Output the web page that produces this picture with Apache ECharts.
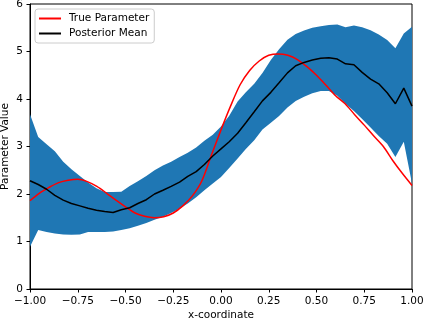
<!DOCTYPE html>
<html>
<head>
<meta charset="utf-8">
<script src="https://cdn.jsdelivr.net/npm/echarts@6/dist/echarts.min.js"></script>
<style>
  html, body { margin: 0; padding: 0; background: #fff; }
  #chart { width: 423px; height: 322px; }
</style>
</head>
<body>
<div id="chart"></div>
<script>
// grid of the posterior (47 points between -1 and 1)
const xGrid = [
  -1.000, -0.957, -0.913, -0.870, -0.826, -0.783, -0.739, -0.696, -0.652, -0.609,
  -0.565, -0.522, -0.478, -0.435, -0.391, -0.348, -0.304, -0.261, -0.217, -0.174,
  -0.130, -0.087, -0.043, 0.000, 0.043, 0.087, 0.130, 0.174, 0.217, 0.261,
  0.304, 0.348, 0.391, 0.435, 0.478, 0.522, 0.565, 0.609, 0.652, 0.696,
  0.739, 0.783, 0.826, 0.870, 0.913, 0.957, 1.000
];
const meanValues = [
  2.28, 2.20, 2.10, 1.97, 1.87, 1.80, 1.75, 1.70, 1.66, 1.63,
  1.61, 1.67, 1.71, 1.80, 1.88, 2.00, 2.08, 2.16, 2.25, 2.37,
  2.47, 2.62, 2.80, 2.95, 3.10, 3.28, 3.50, 3.73, 3.96, 4.14,
  4.34, 4.55, 4.70, 4.77, 4.82, 4.86, 4.87, 4.84, 4.74, 4.72,
  4.56, 4.42, 4.32, 4.13, 3.90, 4.23, 3.85
];
const upperValues = [
  3.68, 3.20, 3.05, 2.90, 2.68, 2.52, 2.38, 2.24, 2.12, 2.04,
  2.04, 2.05, 2.17, 2.27, 2.38, 2.50, 2.60, 2.68, 2.78, 2.87,
  2.98, 3.12, 3.25, 3.42, 3.65, 3.95, 4.14, 4.32, 4.55, 4.82,
  5.05, 5.25, 5.37, 5.44, 5.50, 5.53, 5.56, 5.57, 5.51, 5.55,
  5.51, 5.45, 5.36, 5.24, 5.07, 5.38, 5.52
];
const lowerValues = [
  0.89, 1.24, 1.20, 1.17, 1.15, 1.14, 1.15, 1.20, 1.20, 1.20,
  1.21, 1.24, 1.28, 1.33, 1.39, 1.46, 1.52, 1.60, 1.69, 1.80,
  1.93, 2.08, 2.22, 2.36, 2.55, 2.75, 2.95, 3.13, 3.36, 3.50,
  3.64, 3.82, 3.96, 4.05, 4.12, 4.17, 4.17, 4.07, 3.90, 3.75,
  3.58, 3.40, 3.22, 3.06, 2.78, 3.10, 2.22
];

// true parameter curve
const trueX = [
  -1.00, -0.95, -0.90, -0.85, -0.80, -0.75, -0.70, -0.65, -0.60, -0.55,
  -0.50, -0.45, -0.40, -0.35, -0.30, -0.25, -0.20, -0.15, -0.10, -0.05,
  0.00, 0.05, 0.10, 0.15, 0.20, 0.25, 0.30, 0.35, 0.40, 0.45,
  0.50, 0.55, 0.60, 0.65, 0.70, 0.75, 0.80, 0.85, 0.90, 0.95, 1.00
];
const trueValues = [
  1.86, 2.02, 2.14, 2.24, 2.29, 2.31, 2.26, 2.16, 2.02, 1.87,
  1.73, 1.60, 1.53, 1.50, 1.52, 1.60, 1.75, 1.96, 2.28, 2.82,
  3.35, 3.85, 4.30, 4.60, 4.80, 4.92, 4.95, 4.92, 4.83, 4.68,
  4.50, 4.29, 4.07, 3.90, 3.67, 3.45, 3.22, 3.00, 2.70, 2.43, 2.18
];

const xTicks = [-1, -0.75, -0.5, -0.25, 0, 0.25, 0.5, 0.75, 1];
const yTicks = [0, 1, 2, 3, 4, 5, 6];

const font = 'DejaVu Sans';
const pairs = (xs, ys) => xs.map((x, i) => [x, ys[i]]);

const chart = echarts.init(document.getElementById('chart'));
chart.setOption({
  animation: false,
  backgroundColor: '#fff',
  grid: {
    left: 30, right: 11, top: 4, bottom: 33,
    outerBoundsMode: 'none',
    containLabel: false,
    show: true, borderColor: '#000', borderWidth: 1, backgroundColor: 'transparent'
  },
  legend: {
    data: ['True Parameter', 'Posterior Mean'],
    orient: 'vertical',
    left: 35, top: 9,
    padding: [4, 5, 4, 4],
    itemGap: 4,
    itemWidth: 22, itemHeight: 2,
    icon: 'rect',
    borderColor: '#cccccc', borderWidth: 1, borderRadius: 3,
    backgroundColor: 'rgba(255,255,255,0.8)',
    textStyle: { fontFamily: font, fontSize: 10.5, color: '#000', padding: [0, 0, 0, 3] }
  },
  xAxis: {
    type: 'value',
    min: -1, max: 1, interval: 0.25,
    name: 'x-coordinate',
    nameLocation: 'middle', nameGap: 21,
    nameMoveOverlap: false,
    nameTextStyle: { fontFamily: font, fontSize: 10.5, color: '#000' },
    splitLine: { show: false },
    axisLine: { show: true, onZero: false, lineStyle: { color: '#000', width: 1 } },
    axisTick: { show: true, inside: false, length: 3.5, lineStyle: { color: '#000' } },
    axisLabel: {
      fontFamily: font, fontSize: 10.5, color: '#000', margin: 7,
      formatter: v => xTicks.includes(v) ? v.toFixed(2).replace('-', '\u2212') : ''
    }
  },
  yAxis: {
    type: 'value',
    min: 0, max: 6, interval: 1,
    name: 'Parameter Value',
    nameLocation: 'middle', nameGap: 19,
    nameMoveOverlap: false,
    nameTextStyle: { fontFamily: font, fontSize: 10.5, color: '#000' },
    splitLine: { show: false },
    axisLine: { show: true, onZero: false, lineStyle: { color: '#000', width: 1 } },
    axisTick: { show: true, inside: false, length: 3.5, lineStyle: { color: '#000' } },
    axisLabel: {
      fontFamily: font, fontSize: 10.5, color: '#000', margin: 7,
      formatter: v => yTicks.includes(v) ? String(v) : ''
    }
  },
  series: [
    {
      name: 'band',
      type: 'custom',
      silent: true,
      z: 1,
      data: [0],
      renderItem: (params, api) => {
        const pts = [];
        for (let i = 0; i < xGrid.length; i++) pts.push(api.coord([xGrid[i], upperValues[i]]));
        for (let i = xGrid.length - 1; i >= 0; i--) pts.push(api.coord([xGrid[i], lowerValues[i]]));
        return { type: 'polygon', shape: { points: pts }, style: { fill: '#1f77b4' } };
      }
    },
    {
      name: 'True Parameter',
      type: 'line',
      z: 3,
      data: pairs(trueX, trueValues),
      smooth: 0.3,
      showSymbol: false,
      color: '#ff0000',
      lineStyle: { color: '#ff0000', width: 1.5 }
    },
    {
      name: 'Posterior Mean',
      type: 'line',
      z: 4,
      data: pairs(xGrid, meanValues),
      showSymbol: false,
      color: '#000000',
      lineStyle: { color: '#000000', width: 1.5 }
    }
  ]
});
</script>
</body>
</html>
